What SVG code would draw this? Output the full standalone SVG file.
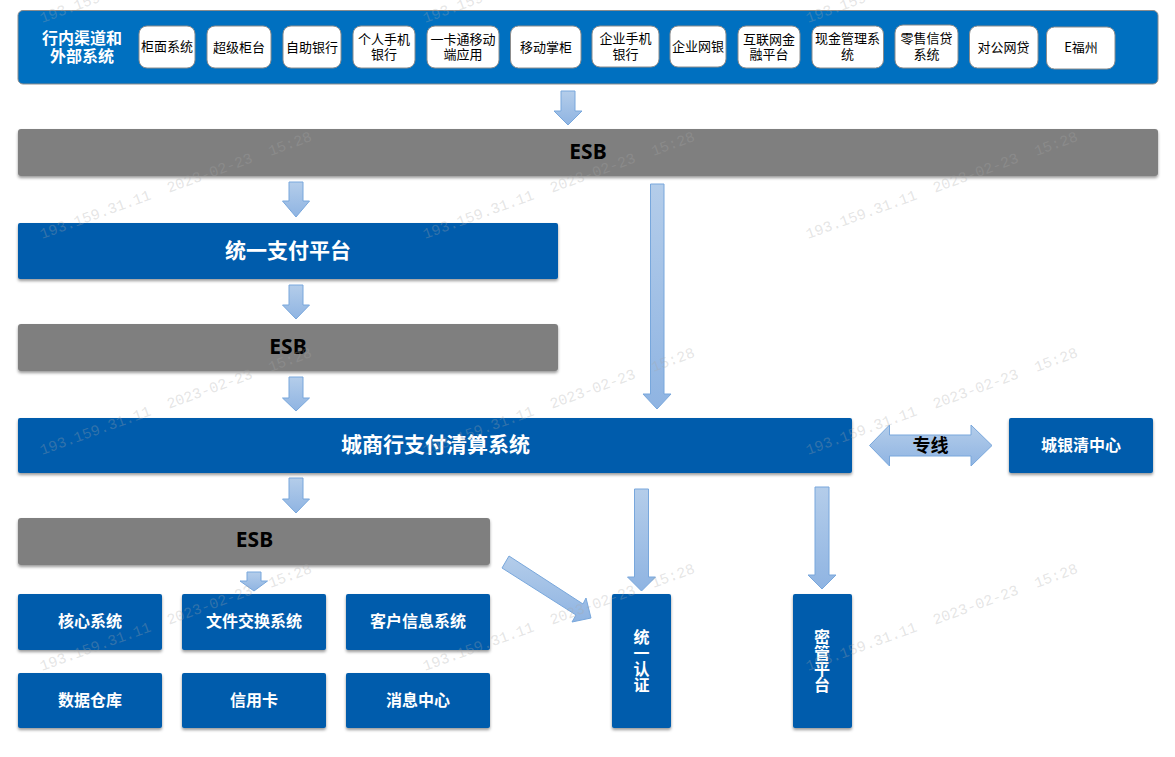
<svg xmlns="http://www.w3.org/2000/svg" width="1175" height="757" viewBox="0 0 1175 757">
<style>
text{font-family:"Noto Sans CJK SC","Noto Sans",sans-serif;text-anchor:middle;dominant-baseline:central}
.ch rect{fill:#fff;stroke:#8c8c8c;stroke-width:1}
.ch text{font-size:13px;fill:#000}
.blue rect{fill:#005bac;filter:url(#sh)}
.blue text{fill:#fff;font-weight:700;font-size:16px}
.big text{font-size:21px}
.esb rect{fill:#7f7f7f;filter:url(#sh)}
.esb text{fill:#000;font-weight:700;font-size:21px;font-family:"Noto Sans",sans-serif}
.arr path{fill:url(#ag);stroke:#78a7dc;stroke-width:1}
.wm text{font-family:"Liberation Mono",monospace;font-size:15px;fill:#a8a8a8;fill-opacity:.3;text-anchor:start;dominant-baseline:auto;white-space:pre}
</style>
<defs>
<linearGradient id="ag" x1="0" y1="0" x2="0" y2="1"><stop offset="0" stop-color="#b4cdea"/><stop offset="1" stop-color="#8fb4e2"/></linearGradient>
<filter id="sh" x="-5%" y="-10%" width="110%" height="125%"><feDropShadow dx="0" dy="2" stdDeviation="1.5" flood-color="#000" flood-opacity=".4"/></filter>
</defs>
<g id="channels" class="ch">
<rect x="18" y="10.500" width="1140" height="73.500" rx="5" style="fill:#0070c0;stroke:#8c8c8c"/>
<text style="fill:#fff;font-size:16px;font-weight:700"><tspan x="82" y="36.500">行内渠道和</tspan><tspan x="82" y="55">外部系统</tspan></text>
<g id="n-guimian"><rect x="139" y="26" width="56" height="42" rx="8"/><text x="167" y="45.500">柜面系统</text></g>
<g id="n-chaoji"><rect x="207" y="26" width="64" height="42" rx="8"/><text x="239" y="46">超级柜台</text></g>
<g id="n-zizhu"><rect x="283" y="26" width="58" height="42" rx="8"/><text x="312" y="46">自助银行</text></g>
<g id="n-geren"><rect x="353" y="26" width="62" height="42" rx="8"/><text><tspan x="384" y="38">个人手机</tspan><tspan x="384" y="53">银行</tspan></text></g>
<g id="n-yika"><rect x="427" y="26" width="72" height="42" rx="8"/><text><tspan x="463" y="38">一卡通移动</tspan><tspan x="463" y="53">端应用</tspan></text></g>
<g id="n-yidong"><rect x="510.500" y="26" width="70.500" height="42" rx="8"/><text x="546" y="46">移动掌柜</text></g>
<g id="n-qiye"><rect x="592" y="26" width="67" height="41" rx="8"/><text><tspan x="625.500" y="37">企业手机</tspan><tspan x="625.500" y="53">银行</tspan></text></g>
<g id="n-wangyin"><rect x="670" y="26" width="56" height="41" rx="8"/><text x="698" y="45">企业网银</text></g>
<g id="n-hulian"><rect x="738" y="26" width="62" height="42" rx="8"/><text><tspan x="769" y="38">互联网金</tspan><tspan x="769" y="53">融平台</tspan></text></g>
<g id="n-xianjin"><rect x="812" y="26" width="71.500" height="42" rx="8"/><text><tspan x="847.500" y="37">现金管理系</tspan><tspan x="847.500" y="53">统</tspan></text></g>
<g id="n-lingshou"><rect x="895" y="25" width="63" height="43" rx="8"/><text><tspan x="926.500" y="37">零售信贷</tspan><tspan x="926.500" y="53">系统</tspan></text></g>
<g id="n-duigong"><rect x="969.500" y="26" width="68.500" height="42" rx="8"/><text x="1003.500" y="46">对公网贷</text></g>
<g id="n-efuzhou"><rect x="1046.500" y="27" width="68.500" height="42" rx="8"/><text x="1081" y="46">E福州</text></g>
</g>
<g id="connectors" class="arr">
<path d="M561 91H575V111H582L568 125L554 111H561Z"/>
<path d="M289 182H303V201H309.500L296 217L282.500 201H289Z"/>
<path d="M650.500 184H664V394H671L657 409L643 394H650.500Z"/>
<path d="M289 285H303V305H309.500L296 319L282.500 305H289Z"/>
<path d="M289 377H303V398H309.500L296 411L282.500 398H289Z"/>
<path d="M289 478H303V499H309.500L296 513L282.500 499H289Z"/>
<path d="M247 572H261V581H267.500L254 591L240 581H247Z"/>
<path d="M634.500 489H648.500V577H655.500L641.500 591L627.500 577H634.500Z"/>
<path d="M815 487H829V575H836L822 589L808 575H815Z"/>
<path d="M509 556L583 604L586 598L591 618L572 622L576 615L502 568Z"/>
<path d="M869.500 445.500L889.500 425V435H971V425L992 445.500L971 466V456H889.500V466Z"/>
</g>
<g id="esb1" class="esb"><rect x="18" y="129" width="1140" height="47" rx="3"/><text x="588" y="150.500">ESB</text></g>
<g id="pay" class="blue big"><rect x="18" y="223" width="540" height="56" rx="2"/><text x="288" y="249">统一支付平台</text></g>
<g id="esb2" class="esb"><rect x="18" y="324" width="540" height="47" rx="3"/><text x="288" y="345.500">ESB</text></g>
<g id="clearing" class="blue big"><rect x="18" y="418" width="834" height="55" rx="2"/><text x="435.500" y="443">城商行支付清算系统</text></g>
<g id="citybank" class="blue"><rect x="1009" y="418" width="144" height="55" rx="2"/><text x="1081" y="444">城银清中心</text></g>
<text id="zhuanxian" x="930.500" y="444" style="font-size:18px;font-weight:700;fill:#000">专线</text>
<g id="esb3" class="esb"><rect x="18" y="518" width="472" height="47" rx="3"/><text x="254.500" y="538.500">ESB</text></g>
<g id="core" class="blue"><rect x="18" y="594" width="144" height="56" rx="2"/><text x="90" y="620">核心系统</text></g>
<g id="file" class="blue"><rect x="182" y="594" width="144" height="56" rx="2"/><text x="254" y="620">文件交换系统</text></g>
<g id="cif" class="blue"><rect x="346" y="594" width="144" height="56" rx="2"/><text x="418" y="620">客户信息系统</text></g>
<g id="dw" class="blue"><rect x="18" y="673" width="144" height="55" rx="2"/><text x="90" y="699">数据仓库</text></g>
<g id="card" class="blue"><rect x="182" y="673" width="144" height="55" rx="2"/><text x="254" y="699">信用卡</text></g>
<g id="msg" class="blue"><rect x="346" y="673" width="144" height="55" rx="2"/><text x="418" y="699">消息中心</text></g>
<g id="auth" class="blue"><rect x="612" y="594" width="59" height="134" rx="2"/><text x="641.500" y="661" style="writing-mode:vertical-rl">统一认证</text></g>
<g id="secret" class="blue"><rect x="793" y="594" width="59" height="134" rx="2"/><text x="822" y="661" style="writing-mode:vertical-rl">密管平台</text></g>
<g id="watermark" class="wm">
<text transform="translate(42 23) rotate(-20)">193.159.31.11  2023-02-23  15:28</text>
<text transform="translate(425 23) rotate(-20)">193.159.31.11  2023-02-23  15:28</text>
<text transform="translate(808 23) rotate(-20)">193.159.31.11  2023-02-23  15:28</text>
<text transform="translate(42 239) rotate(-20)">193.159.31.11  2023-02-23  15:28</text>
<text transform="translate(425 239) rotate(-20)">193.159.31.11  2023-02-23  15:28</text>
<text transform="translate(808 239) rotate(-20)">193.159.31.11  2023-02-23  15:28</text>
<text transform="translate(42 455) rotate(-20)">193.159.31.11  2023-02-23  15:28</text>
<text transform="translate(425 455) rotate(-20)">193.159.31.11  2023-02-23  15:28</text>
<text transform="translate(808 455) rotate(-20)">193.159.31.11  2023-02-23  15:28</text>
<text transform="translate(42 671) rotate(-20)">193.159.31.11  2023-02-23  15:28</text>
<text transform="translate(425 671) rotate(-20)">193.159.31.11  2023-02-23  15:28</text>
<text transform="translate(808 671) rotate(-20)">193.159.31.11  2023-02-23  15:28</text>
</g>
</svg>
